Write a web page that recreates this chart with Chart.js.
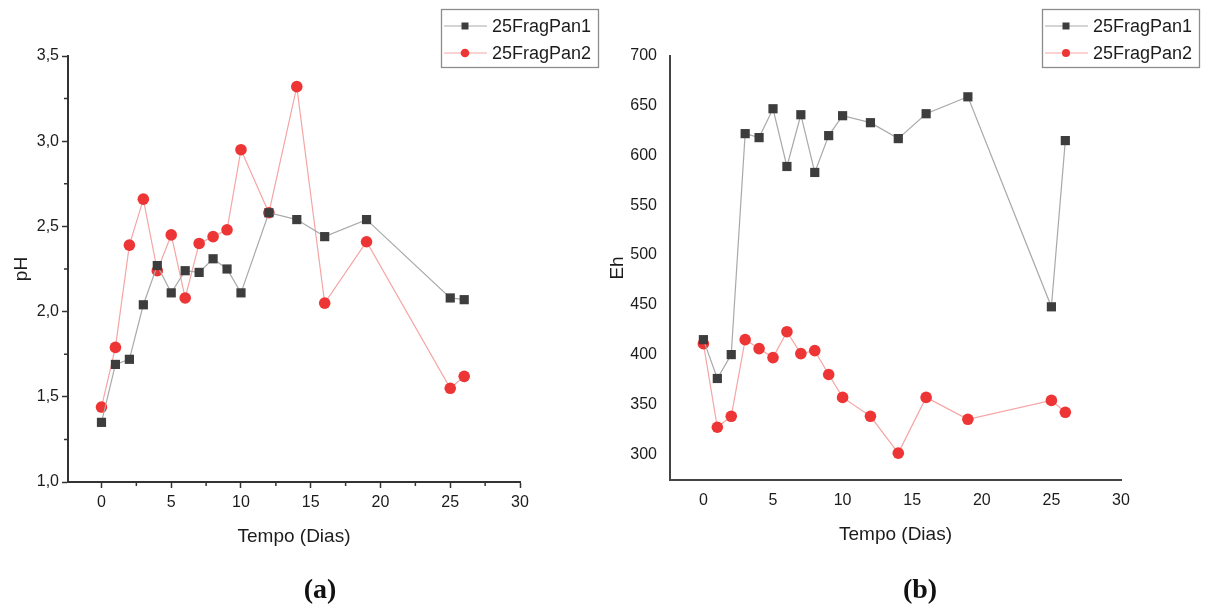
<!DOCTYPE html>
<html>
<head>
<meta charset="utf-8">
<script src="https://cdn.jsdelivr.net/npm/chart.js@4/dist/chart.umd.min.js"></script>
<style>
  body { margin: 0; background: #fff; width: 1211px; height: 614px; position: relative; overflow: hidden; }
  .panel { position: absolute; top: 0; width: 605px; height: 614px; }
  .lbl { position: absolute; top: 573px; width: 100px; text-align: center; color: #111;
         font: bold 28px "Liberation Serif", "Times New Roman", serif; }
</style>
</head>
<body>
<div class="panel" style="left:0"><canvas id="chartPH" width="605" height="614"></canvas></div>
<div class="panel" style="left:605px"><canvas id="chartEh" width="605" height="614"></canvas></div>
<div class="lbl" style="left:270px">(a)</div>
<div class="lbl" style="left:870px">(b)</div>
<script>
// days of sampling
const days = [0, 1, 2, 3, 4, 5, 6, 7, 8, 9, 10, 12, 14, 16, 19, 25, 26];

// pH (a)
const phPan1 = [1.35, 1.69, 1.72, 2.04, 2.27, 2.11, 2.24, 2.23, 2.31, 2.25, 2.11, 2.58, 2.54, 2.44, 2.54, 2.08, 2.07];
const phPan2 = [1.44, 1.79, 2.39, 2.66, 2.24, 2.45, 2.08, 2.40, 2.44, 2.48, 2.95, 2.58, 3.32, 2.05, 2.41, 1.55, 1.62];

// Eh (b)
const ehPan1 = [415, 376, 400, 622, 618, 647, 589, 641, 583, 620, 640, 633, 617, 642, 659, 448, 615];
const ehPan2 = [411, 327, 338, 415, 406, 397, 423, 401, 404, 380, 357, 338, 301, 357, 335, 354, 342];

const seriesNames = ['25FragPan1', '25FragPan2'];

// tick labels
const xTicks = [0, 5, 10, 15, 20, 25, 30];
const xMinorTicks = [2.5, 7.5, 12.5, 17.5, 22.5, 27.5];
const phTicks = [1.0, 1.5, 2.0, 2.5, 3.0, 3.5];
const phMinorTicks = [1.25, 1.75, 2.25, 2.75, 3.25];
const ehTicks = [300, 350, 400, 450, 500, 550, 600, 650, 700];

const FONT = '"Liberation Sans", Arial, sans-serif';
const TXT = '#1c1c1c';
const AXIS = '#333';
const GREY_LINE = '#a9a9a9', GREY_PT = '#3d3d3d';
const RED_LINE = '#f5a5a5', RED_PT = '#ee3535';

function pts(ys) {
    return days.map((d, i) => ({ x: d, y: ys[i] }));
}

function setTicks(list) {
    return function (scale) {
        scale.ticks = list.slice().sort((a, b) => a - b).map(v => ({ value: v }));
    };
}

// major ticks get the normal tick mark, minor ones are drawn shorter by the plugin below
const majorOnly = majors => ctx => (ctx.tick && majors.includes(ctx.tick.value)) ? AXIS : 'rgba(0,0,0,0)';

const minorMarks = {
    id: 'minorMarks',
    afterDraw(chart, args, opts) {
        if (!opts.on) return;
        const ctx = chart.ctx;
        const xs = chart.scales.x, ys = chart.scales.y;
        ctx.save();
        ctx.strokeStyle = AXIS;
        ctx.lineWidth = 1.5;
        ctx.beginPath();
        xMinorTicks.forEach(v => {
            const px = xs.getPixelForValue(v);
            ctx.moveTo(px, xs.top);
            ctx.lineTo(px, xs.top + 4);
        });
        phMinorTicks.forEach(v => {
            const py = ys.getPixelForValue(v);
            ctx.moveTo(ys.right, py);
            ctx.lineTo(ys.right - 4, py);
        });
        ctx.stroke();
        ctx.restore();
    }
};

// little legend box drawn on the canvas
const legendBox = {
    id: 'legendBox',
    afterDraw(chart, args, opts) {
        const ctx = chart.ctx;
        ctx.save();
        ctx.fillStyle = '#fff';
        ctx.strokeStyle = '#8c8c8c';
        ctx.lineWidth = 1.3;
        ctx.fillRect(opts.x, opts.y, opts.w, opts.h);
        ctx.strokeRect(opts.x + 0.5, opts.y + 0.5, opts.w, opts.h);
        chart.data.datasets.forEach((ds, i) => {
            const y = opts.y + 17 + i * 27;
            const x0 = opts.x + 3, x1 = opts.x + 46, xm = opts.x + 24;
            ctx.strokeStyle = ds.borderColor;
            ctx.lineWidth = 1.2;
            ctx.beginPath();
            ctx.moveTo(x0, y);
            ctx.lineTo(x1, y);
            ctx.stroke();
            ctx.fillStyle = ds.pointBackgroundColor;
            if (ds.pointStyle === 'rect') {
                ctx.fillRect(xm - 3.5, y - 3.5, 7, 7);
            } else {
                ctx.beginPath();
                ctx.arc(xm, y, opts.dot || 4.3, 0, Math.PI * 2);
                ctx.fill();
            }
            ctx.fillStyle = TXT;
            ctx.font = '18px ' + FONT;
            ctx.textBaseline = 'middle';
            ctx.fillText(seriesNames[i], opts.x + 51, y + 1);
        });
        ctx.restore();
    }
};

function datasets(a, b) {
    return [{
        label: seriesNames[0],
        data: pts(a),
        borderColor: GREY_LINE,
        borderWidth: 1.2,
        pointStyle: 'rect',
        pointRadius: 6.5,
        pointBackgroundColor: GREY_PT,
        pointBorderColor: GREY_PT,
        pointBorderWidth: 0
    }, {
        label: seriesNames[1],
        data: pts(b),
        borderColor: RED_LINE,
        borderWidth: 1.2,
        pointStyle: 'circle',
        pointRadius: 5.8,
        pointBackgroundColor: RED_PT,
        pointBorderColor: RED_PT,
        pointBorderWidth: 0
    }];
}

// (a) pH
new Chart(document.getElementById('chartPH'), {
    type: 'line',
    data: { datasets: datasets(phPan1, phPan2) },
    plugins: [minorMarks, legendBox],
    options: {
        responsive: false,
        animation: false,
        layout: { padding: { top: 56, right: 85, bottom: 62, left: 0 } },
        plugins: {
            legend: { display: false },
            tooltip: { enabled: false },
            minorMarks: { on: true },
            legendBox: { x: 441, y: 9, w: 157, h: 58 }
        },
        scales: {
            x: {
                type: 'linear',
                min: -2.4, max: 30,
                afterBuildTicks: setTicks(xTicks.concat(xMinorTicks)),
                afterFit(s) { s.height = 70; },
                grid: { drawOnChartArea: false, drawTicks: true, tickLength: 6,
                        tickColor: majorOnly(xTicks), tickWidth: 1.5 },
                border: { color: AXIS, width: 2 },
                ticks: {
                    autoSkip: false, maxRotation: 0, padding: 5, color: TXT,
                    font: { family: FONT, size: 16 },
                    callback: v => xTicks.includes(v) ? String(v) : ''
                },
                title: { display: true, text: 'Tempo (Dias)', color: TXT,
                         font: { family: FONT, size: 19 }, padding: { top: 0, bottom: 4 } }
            },
            y: {
                min: 1.0, max: 3.5,
                afterBuildTicks: setTicks(phTicks.concat(phMinorTicks)),
                afterFit(s) { s.width = 68; },
                grid: { drawOnChartArea: false, drawTicks: true, tickLength: 6,
                        tickColor: majorOnly(phTicks), tickWidth: 1.5 },
                border: { color: AXIS, width: 2 },
                ticks: {
                    autoSkip: false, padding: 3, color: TXT,
                    font: { family: FONT, size: 16 },
                    callback: v => phTicks.includes(v) ? v.toFixed(1).replace('.', ',') : ''
                },
                title: { display: true, text: 'pH', color: TXT,
                         font: { family: FONT, size: 19 }, padding: { top: 10, bottom: 0 } }
            }
        }
    }
});

// (b) Eh
new Chart(document.getElementById('chartEh'), {
    type: 'line',
    data: { datasets: datasets(ehPan1, ehPan2) },
    plugins: [legendBox],
    options: {
        responsive: false,
        animation: false,
        layout: { padding: { top: 56, right: 89, bottom: 64, left: 0 } },
        plugins: {
            legend: { display: false },
            tooltip: { enabled: false },
            legendBox: { x: 437, y: 9, w: 157, h: 58, dot: 4 }
        },
        scales: {
            x: {
                type: 'linear',
                min: -2.4, max: 30,
                afterBuildTicks: setTicks(xTicks),
                afterFit(s) { s.height = 70; },
                grid: { display: false, drawTicks: false },
                border: { color: '#444', width: 2 },
                ticks: {
                    autoSkip: false, maxRotation: 0, padding: 11, color: TXT,
                    font: { family: FONT, size: 16 }
                },
                title: { display: true, text: 'Tempo (Dias)', color: TXT,
                         font: { family: FONT, size: 19 }, padding: { top: 0, bottom: 4 } }
            },
            y: {
                min: 274, max: 700,
                afterBuildTicks: setTicks(ehTicks),
                afterFit(s) { s.width = 65; },
                grid: { display: false, drawTicks: false },
                border: { color: '#444', width: 2 },
                ticks: {
                    autoSkip: false, padding: 13, color: TXT,
                    font: { family: FONT, size: 16 }
                },
                title: { display: true, text: 'Eh', color: TXT,
                         font: { family: FONT, size: 19 }, padding: { top: 1, bottom: 0 } }
            }
        }
    }
});
</script>
</body>
</html>
